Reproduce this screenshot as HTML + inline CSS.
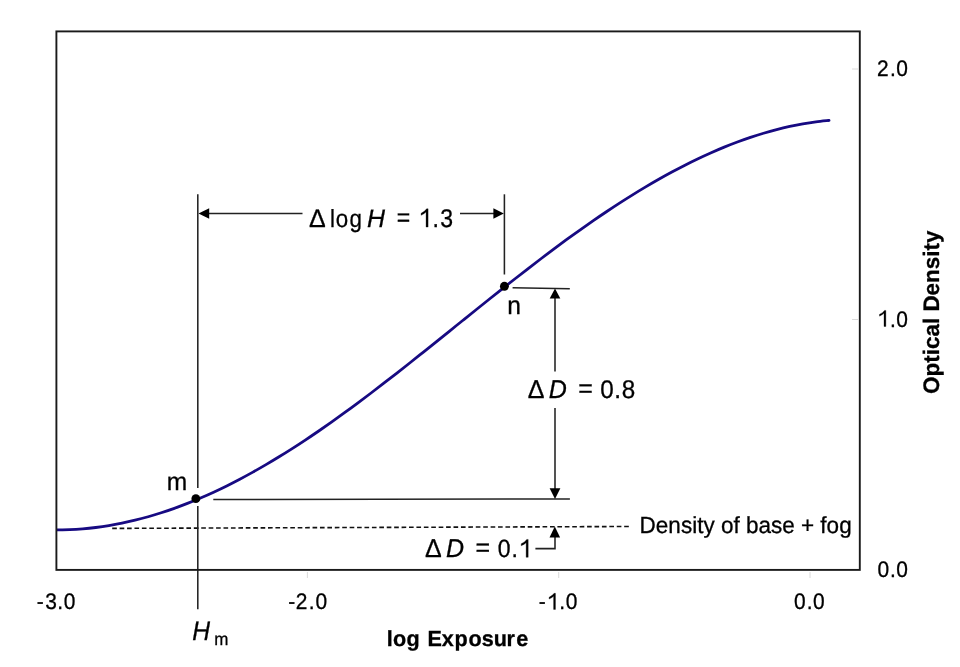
<!DOCTYPE html>
<html><head><meta charset="utf-8"><style>
html,body{margin:0;padding:0;background:#fff;width:960px;height:667px;overflow:hidden}
svg{display:block;will-change:transform}
text{font-family:"Liberation Sans",sans-serif;fill:#000;stroke:#000;stroke-width:0.3px;text-rendering:geometricPrecision}
</style></head><body>
<svg width="960" height="667" viewBox="0 0 960 667">
<rect x="0" y="0" width="960" height="667" fill="#fff"/>
<g stroke="#dadada" stroke-width="1">
<line x1="307.4" y1="572" x2="307.4" y2="578"/>
<line x1="558.7" y1="572" x2="558.7" y2="578"/>
<line x1="810" y1="572" x2="810" y2="578"/>
<line x1="852" y1="69" x2="858" y2="69"/>
<line x1="852" y1="319.5" x2="858" y2="319.5"/>
</g>
<line x1="112.2" y1="528.4" x2="629" y2="526.5" stroke="#111" stroke-width="1.6" stroke-dasharray="4.65 2.77"/>
<g stroke="#222" stroke-width="1.55" fill="none">
<line x1="197.8" y1="194.3" x2="197.8" y2="488.1"/>
<line x1="197.8" y1="506" x2="197.8" y2="609.3"/>
<line x1="504.4" y1="194.3" x2="504.4" y2="274.5"/>
<line x1="205" y1="213.5" x2="302.5" y2="213.5"/>
<line x1="460" y1="213.5" x2="497" y2="213.5"/>
<line x1="512.6" y1="287.8" x2="569.8" y2="288.7"/>
<line x1="213.3" y1="499.55" x2="569.9" y2="499.0"/>
<line x1="555" y1="295" x2="555" y2="371.4"/>
<line x1="555" y1="408.1" x2="555" y2="489"/>
<polyline points="535.4,548.6 555,548.6 555,535"/>
</g>
<g fill="#000">
<polygon points="198.5,213.5 209.2,208.2 209.2,218.8"/>
<polygon points="503.8,213.5 493.4,208.2 493.4,218.8"/>
<polygon points="555,288.4 549.7,298.6 560.3,298.6"/>
<polygon points="555,498.9 549.6,488.2 560.4,488.2"/>
<polygon points="554.8,526.5 549.5,537.4 560.1,537.4"/>
</g>
<path d="M56.50,529.89 C58.68,529.85 65.23,529.83 69.59,529.66 C73.96,529.49 78.32,529.22 82.69,528.86 C87.05,528.50 91.42,528.04 95.78,527.50 C100.14,526.95 104.51,526.32 108.87,525.59 C113.24,524.87 117.60,524.05 121.97,523.15 C126.33,522.25 130.69,521.26 135.06,520.19 C139.42,519.12 143.79,517.96 148.15,516.73 C152.52,515.49 156.88,514.16 161.25,512.76 C165.61,511.36 169.97,509.87 174.34,508.31 C178.70,506.75 183.07,505.11 187.43,503.39 C191.80,501.67 196.16,499.87 200.53,498.00 C204.89,496.13 209.25,494.19 213.62,492.17 C217.98,490.15 222.35,488.06 226.71,485.90 C231.08,483.74 235.44,481.51 239.81,479.21 C244.17,476.92 248.53,474.55 252.90,472.12 C257.26,469.69 261.63,467.20 265.99,464.64 C270.36,462.09 274.72,459.47 279.08,456.79 C283.45,454.12 287.81,451.38 292.18,448.59 C296.54,445.81 300.91,442.96 305.27,440.06 C309.64,437.17 314.00,434.22 318.36,431.23 C322.73,428.23 327.09,425.19 331.46,422.10 C335.82,419.02 340.19,415.88 344.55,412.71 C348.92,409.55 353.28,406.33 357.64,403.09 C362.01,399.85 366.37,396.56 370.74,393.25 C375.10,389.94 379.47,386.60 383.83,383.23 C388.19,379.86 392.56,376.47 396.92,373.05 C401.29,369.64 405.65,366.19 410.02,362.74 C414.38,359.29 418.75,355.81 423.11,352.33 C427.47,348.84 431.84,345.34 436.20,341.84 C440.57,338.33 444.93,334.82 449.30,331.30 C453.66,327.79 458.03,324.27 462.39,320.76 C466.75,317.24 471.12,313.73 475.48,310.22 C479.85,306.72 484.21,303.21 488.58,299.73 C492.94,296.24 497.31,292.76 501.67,289.30 C506.03,285.85 510.40,282.40 514.76,278.98 C519.13,275.56 523.49,272.15 527.86,268.78 C532.22,265.41 536.58,262.05 540.95,258.74 C545.31,255.42 549.68,252.13 554.04,248.87 C558.41,245.62 562.77,242.39 567.14,239.21 C571.50,236.03 575.86,232.89 580.23,229.79 C584.59,226.69 588.96,223.62 593.32,220.61 C597.69,217.60 602.05,214.63 606.42,211.72 C610.78,208.80 615.14,205.93 619.51,203.12 C623.87,200.31 628.24,197.54 632.60,194.84 C636.97,192.14 641.33,189.49 645.69,186.90 C650.06,184.31 654.42,181.77 658.79,179.30 C663.15,176.82 667.52,174.40 671.88,172.05 C676.25,169.70 680.61,167.42 684.97,165.20 C689.34,162.98 693.70,160.84 698.07,158.76 C702.43,156.68 706.80,154.68 711.16,152.75 C715.53,150.81 719.89,148.95 724.25,147.17 C728.62,145.39 732.98,143.68 737.35,142.06 C741.71,140.43 746.08,138.88 750.44,137.42 C754.81,135.95 759.17,134.56 763.53,133.26 C767.90,131.96 772.26,130.74 776.63,129.61 C780.99,128.48 785.36,127.43 789.72,126.48 C794.08,125.53 798.45,124.66 802.81,123.89 C807.18,123.12 811.54,122.44 815.91,121.86 C820.27,121.28 826.82,120.65 829.00,120.41" fill="none" stroke="#170a82" stroke-width="2.8"/>
<circle cx="829.00" cy="120.41" r="1.4" fill="#170a82"/>
<rect x="56.4" y="31.4" width="803.4" height="538.5" fill="none" stroke="#1a1a1a" stroke-width="1.9"/>
<circle cx="195.85" cy="498.65" r="4.45" fill="#000"/>
<circle cx="504.4" cy="286.3" r="4.45" fill="#000"/>
<g fill="#000">
<text x="315.26" y="227.10" font-size="25.5" transform="scale(0.98,1)">Δ</text>
<text x="366.55" y="227.10" font-size="24.8" transform="scale(0.9,1)">l</text>
<text x="372.96" y="227.10" font-size="24.8" transform="scale(0.9,1)">o</text>
<text x="388.46" y="227.10" font-size="24.8" transform="scale(0.9,1)">g</text>
<text x="370.74" y="227.10" font-size="25.2" font-style="italic" transform="scale(0.99,1)">H</text>
<text x="440.75" y="225.70" font-size="25.6" transform="scale(0.9,1)">=</text>
<path d="M426.05,227.10 L428.10,227.10 L428.10,208.80 L426.61,208.80 Q425.18,211.23 421.10,213.28 L421.10,215.32 Q424.26,213.92 426.05,212.12 Z" stroke="#000" stroke-width="0.3"/>
<text x="480.55" y="227.10" font-size="25.6" transform="scale(0.9,1)">.</text>
<text x="489.25" y="227.10" font-size="25.6" transform="scale(0.9,1)">3</text>
<text x="544.18" y="398.10" font-size="25.8" transform="scale(0.97,1)">Δ</text>
<text x="565.80" y="398.10" font-size="25.8" font-style="italic" transform="scale(0.97,1)">D</text>
<text x="590.18" y="396.70" font-size="25.5" transform="scale(0.98,1)">=</text>
<text x="631.85" y="398.10" font-size="25.5" transform="scale(0.95,1)">0</text>
<text x="646.62" y="398.10" font-size="25.5" transform="scale(0.95,1)">.</text>
<text x="654.58" y="398.10" font-size="25.5" transform="scale(0.95,1)">8</text>
<text x="438.20" y="557.30" font-size="25.8" transform="scale(0.97,1)">Δ</text>
<text x="459.77" y="557.30" font-size="25.8" font-style="italic" transform="scale(0.97,1)">D</text>
<text x="475.48" y="555.90" font-size="25">=</text>
<text x="540.98" y="557.30" font-size="25" transform="scale(0.92,1)">0</text>
<text x="555.87" y="557.30" font-size="25" transform="scale(0.92,1)">.</text>
<path d="M526.14,557.30 L528.19,557.30 L528.19,539.42 L526.70,539.42 Q525.27,541.80 521.20,543.80 L521.20,545.80 Q524.35,544.42 526.14,542.67 Z" stroke="#000" stroke-width="0.3"/>
<text x="169.21" y="489.90" font-size="24.9" transform="scale(0.985,1)">m</text>
<text x="525.77" y="314.00" font-size="25.5" transform="scale(0.965,1)">n</text>
<text x="39.54" y="609.40" font-size="22.5" transform="scale(0.93,1)">-</text>
<text x="48.71" y="609.40" font-size="22.5" transform="scale(0.93,1)">3</text>
<text x="61.66" y="609.40" font-size="22.5" transform="scale(0.93,1)">.</text>
<text x="68.58" y="609.40" font-size="22.5" transform="scale(0.93,1)">0</text>
<text x="309.86" y="609.40" font-size="22.5" transform="scale(0.93,1)">-</text>
<text x="317.95" y="609.40" font-size="22.5" transform="scale(0.93,1)">2</text>
<text x="331.92" y="609.40" font-size="22.5" transform="scale(0.93,1)">.</text>
<text x="339.17" y="609.40" font-size="22.5" transform="scale(0.93,1)">0</text>
<text x="579.32" y="609.40" font-size="22.5" transform="scale(0.93,1)">-</text>
<path d="M553.60,609.40 L555.46,609.40 L555.46,593.31 L554.10,593.31 Q552.80,595.45 549.10,597.25 L549.10,599.05 Q551.97,597.81 553.60,596.24 Z" stroke="#000" stroke-width="0.3"/>
<text x="601.44" y="609.40" font-size="22.5" transform="scale(0.93,1)">.</text>
<text x="608.26" y="609.40" font-size="22.5" transform="scale(0.93,1)">0</text>
<text x="853.85" y="609.40" font-size="22.5" transform="scale(0.93,1)">0</text>
<text x="867.41" y="609.40" font-size="22.5" transform="scale(0.93,1)">.</text>
<text x="874.28" y="609.40" font-size="22.5" transform="scale(0.93,1)">0</text>
<text x="942.95" y="76.10" font-size="22.5" transform="scale(0.93,1)">2</text>
<text x="956.87" y="76.10" font-size="22.5" transform="scale(0.93,1)">.</text>
<text x="963.85" y="76.10" font-size="22.5" transform="scale(0.93,1)">0</text>
<path d="M884.00,326.50 L885.86,326.50 L885.86,310.41 L884.50,310.41 Q883.20,312.55 879.50,314.35 L879.50,316.15 Q882.37,314.91 884.00,313.34 Z" stroke="#000" stroke-width="0.3"/>
<text x="956.87" y="326.50" font-size="22.5" transform="scale(0.93,1)">.</text>
<text x="963.85" y="326.50" font-size="22.5" transform="scale(0.93,1)">0</text>
<text x="943.53" y="577.00" font-size="22.5" transform="scale(0.93,1)">0</text>
<text x="956.87" y="577.00" font-size="22.5" transform="scale(0.93,1)">.</text>
<text x="963.85" y="577.00" font-size="22.5" transform="scale(0.93,1)">0</text>
<text x="206.71" y="639.90" font-size="26.5" font-style="italic" transform="scale(0.93,1)">H</text>
<text x="221.00" y="645.00" font-size="17.5" transform="scale(0.97,1)">m</text>

<text x="662.11" y="533.4" font-size="23.3" transform="scale(0.966,1)">Density of base + fog</text>
<text x="390.60" y="645.80" font-size="21.8" font-weight="bold" transform="scale(0.99,1)">l</text>
<text x="396.88" y="645.80" font-size="21.8" font-weight="bold" transform="scale(0.99,1)">o</text>
<text x="410.72" y="645.80" font-size="21.8" font-weight="bold" transform="scale(0.99,1)">g</text>
<text x="431.88" y="645.80" font-size="21.8" font-weight="bold" transform="scale(0.99,1)">E</text>
<text x="446.11" y="645.80" font-size="21.8" font-weight="bold" transform="scale(0.99,1)">x</text>
<text x="459.07" y="645.80" font-size="21.8" font-weight="bold" transform="scale(0.99,1)">p</text>
<text x="473.14" y="645.80" font-size="21.8" font-weight="bold" transform="scale(0.99,1)">o</text>
<text x="486.71" y="645.80" font-size="21.8" font-weight="bold" transform="scale(0.99,1)">s</text>
<text x="498.75" y="645.80" font-size="21.8" font-weight="bold" transform="scale(0.99,1)">u</text>
<text x="511.69" y="645.80" font-size="21.8" font-weight="bold" transform="scale(0.99,1)">r</text>
<text x="521.57" y="645.80" font-size="21.8" font-weight="bold" transform="scale(0.99,1)">e</text>
<text transform="translate(938.5,393.9) rotate(-90)" font-weight="bold" font-size="22.45">Optical Density</text>
</g>
</svg>
</body></html>
